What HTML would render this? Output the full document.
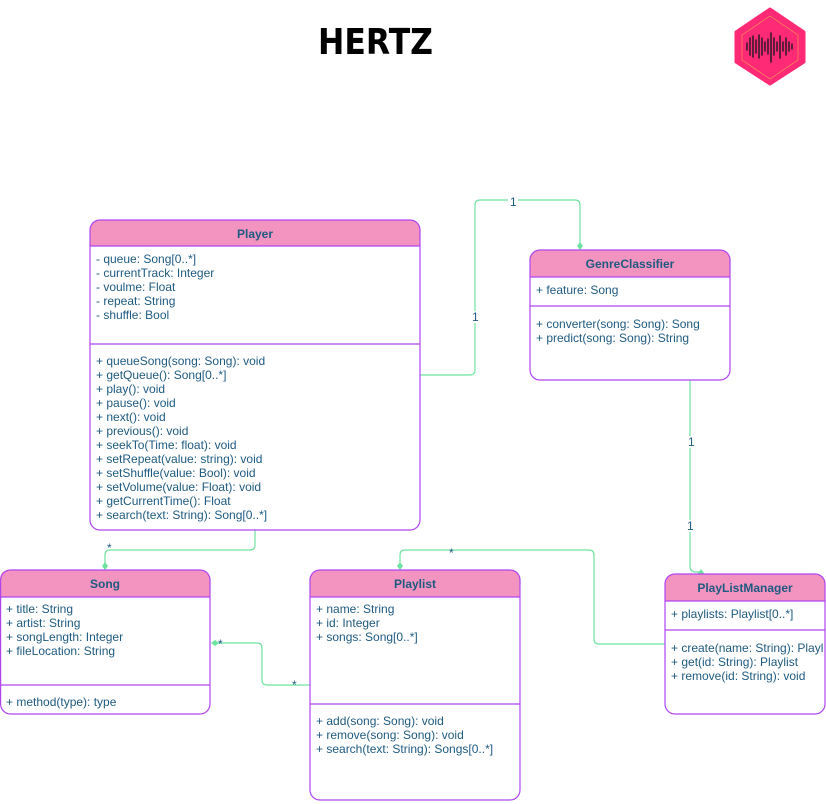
<!DOCTYPE html>
<html><head><meta charset="utf-8"><style>
html,body{margin:0;padding:0;background:#fff;width:826px;height:804px;overflow:hidden}
svg text{font-family:"Liberation Sans",Arial,sans-serif;font-size:12px;fill:#1e5a80}
svg .h{font-weight:bold;text-anchor:middle}
</style></head><body>
<svg width="826" height="804" viewBox="0 0 826 804" xmlns="http://www.w3.org/2000/svg">
<rect width="826" height="804" fill="#fff"/>
<text x="318" y="54" textLength="115" lengthAdjust="spacingAndGlyphs" style="font-family:'DejaVu Sans',sans-serif;font-weight:bold;font-size:36px;fill:#000">HERTZ</text>
<!-- logo -->
<polygon points="770,9 804,32 804,62 770,84 736,62 736,32" fill="#ff2a75" stroke="#ff2a75" stroke-width="3" stroke-linejoin="round"/>
<polygon points="770,16 798,35 798,60 770,79 742,60 742,35" fill="none" stroke="#f5a050" stroke-width="0.6"/>
<g stroke="#3a1a2a" stroke-width="1.6" stroke-linecap="round">
<line x1="747" y1="43" x2="747" y2="50"/><line x1="750" y1="38" x2="750" y2="55"/><line x1="753" y1="36" x2="753" y2="57"/><line x1="756" y1="40" x2="756" y2="53"/><line x1="759" y1="35" x2="759" y2="58"/><line x1="762" y1="38" x2="762" y2="55"/><line x1="765" y1="42" x2="765" y2="51"/><line x1="768" y1="39" x2="768" y2="54"/><line x1="771" y1="33" x2="771" y2="62"/><line x1="774" y1="38" x2="774" y2="55"/><line x1="777" y1="42" x2="777" y2="51"/><line x1="780" y1="36" x2="780" y2="58"/><line x1="783" y1="42" x2="783" y2="51"/><line x1="786" y1="38" x2="786" y2="55"/><line x1="789" y1="42" x2="789" y2="51"/><line x1="792" y1="44" x2="792" y2="49"/>
</g>
<!-- connectors -->
<g fill="none" stroke="#6ee39f" stroke-width="1.2">
<path d="M420,375 H470 Q475,375 475,370 V205 Q475,200 480,200 H575 Q580,200 580,205 V244"/>
<path d="M690,380 V566 Q690,572 696,572 H701"/>
<path d="M255,530 V545 Q255,550 250,550 H110 Q105,550 105,555 V564"/>
<path d="M665,644 H599 Q594,644 594,639 V555 Q594,550 589,550 H405 Q400,550 400,555 V564"/>
<path d="M310,685 H267 Q262,685 262,680 V648 Q262,643 257,643 H216"/>
</g>
<g fill="#6ee39f">
<polygon points="580,242 583,246 580,250 577,246"/>
<polygon points="701,569 704,573 701,577 698,573"/>
<polygon points="105,562 108,566 105,570 102,566"/>
<polygon points="400,562 403,566 400,570 397,566"/>
<polygon points="211,643 215,640 219,643 215,646"/>
</g>
<g>
<rect x="508" y="195" width="10" height="12" fill="#fff"/><text x="510" y="206">1</text>
<rect x="470" y="311" width="10" height="12" fill="#fff"/><text x="472" y="321">1</text>
<rect x="686" y="436" width="10" height="12" fill="#fff"/><text x="688" y="446">1</text>
<rect x="685" y="520" width="10" height="12" fill="#fff"/><text x="687" y="530">1</text>
<text x="107" y="552">*</text><text x="449" y="557">*</text><text x="218" y="648">*</text><text x="292" y="689">*</text>
</g>
<!-- Player -->
<g>
<path d="M90,530 V230 Q90,220 100,220 H410 Q420,220 420,230 V246 H90" fill="#f394c0"/>
<rect x="90" y="220" width="330" height="310" rx="10" fill="none" stroke="#b045f0" stroke-width="1.2"/>
<line x1="90" y1="246" x2="420" y2="246" stroke="#b045f0" stroke-width="1.2"/>
<line x1="90" y1="344" x2="420" y2="344" stroke="#b045f0" stroke-width="1.2"/>
<text class="h" x="255" y="238">Player</text>
<text x="96" y="263">- queue: Song[0..*]</text>
<text x="96" y="277">- currentTrack: Integer</text>
<text x="96" y="291">- voulme: Float</text>
<text x="96" y="305">- repeat: String</text>
<text x="96" y="319">- shuffle: Bool</text>
<text x="96" y="365">+ queueSong(song: Song): void</text>
<text x="96" y="379">+ getQueue(): Song[0..*]</text>
<text x="96" y="393">+ play(): void</text>
<text x="96" y="407">+ pause(): void</text>
<text x="96" y="421">+ next(): void</text>
<text x="96" y="435">+ previous(): void</text>
<text x="96" y="449">+ seekTo(Time: float): void</text>
<text x="96" y="463">+ setRepeat(value: string): void</text>
<text x="96" y="477">+ setShuffle(value: Bool): void</text>
<text x="96" y="491">+ setVolume(value: Float): void</text>
<text x="96" y="505">+ getCurrentTime(): Float</text>
<text x="96" y="519">+ search(text: String): Song[0..*]</text>
</g>
<!-- GenreClassifier -->
<g>
<path d="M530,277 V260 Q530,250 540,250 H720 Q730,250 730,260 V277 Z" fill="#f394c0"/>
<rect x="530" y="250" width="200" height="130" rx="10" fill="none" stroke="#b045f0" stroke-width="1.2"/>
<line x1="530" y1="277" x2="730" y2="277" stroke="#b045f0" stroke-width="1.2"/>
<line x1="530" y1="306" x2="730" y2="306" stroke="#b045f0" stroke-width="1.2"/>
<text class="h" x="630" y="268">GenreClassifier</text>
<text x="536" y="294">+ feature: Song</text>
<text x="536" y="328">+ converter(song: Song): Song</text>
<text x="536" y="342">+ predict(song: Song): String</text>
</g>
<!-- Song -->
<g>
<path d="M0,597 V580 Q0,570 10,570 H200 Q210,570 210,580 V597 Z" fill="#f394c0"/>
<rect x="0.6" y="570" width="209.4" height="144" rx="10" fill="none" stroke="#b045f0" stroke-width="1.2"/>
<line x1="0" y1="597" x2="210" y2="597" stroke="#b045f0" stroke-width="1.2"/>
<line x1="0" y1="685" x2="210" y2="685" stroke="#b045f0" stroke-width="1.2"/>
<text class="h" x="105" y="588">Song</text>
<text x="6" y="613">+ title: String</text>
<text x="6" y="627">+ artist: String</text>
<text x="6" y="641">+ songLength: Integer</text>
<text x="6" y="655">+ fileLocation: String</text>
<text x="6" y="706">+ method(type): type</text>
</g>
<!-- Playlist -->
<g>
<path d="M310,597 V580 Q310,570 320,570 H510 Q520,570 520,580 V597 Z" fill="#f394c0"/>
<rect x="310" y="570" width="210" height="230" rx="10" fill="none" stroke="#b045f0" stroke-width="1.2"/>
<line x1="310" y1="597" x2="520" y2="597" stroke="#b045f0" stroke-width="1.2"/>
<line x1="310" y1="704" x2="520" y2="704" stroke="#b045f0" stroke-width="1.2"/>
<text class="h" x="415" y="588">Playlist</text>
<text x="316" y="613">+ name: String</text>
<text x="316" y="627">+ id: Integer</text>
<text x="316" y="641">+ songs: Song[0..*]</text>
<text x="316" y="725">+ add(song: Song): void</text>
<text x="316" y="739">+ remove(song: Song): void</text>
<text x="316" y="753">+ search(text: String): Songs[0..*]</text>
</g>
<!-- PlayListManager -->
<g>
<path d="M665,601 V584 Q665,574 675,574 H815 Q825,574 825,584 V601 Z" fill="#f394c0"/>
<rect x="665" y="574" width="160" height="140" rx="10" fill="none" stroke="#b045f0" stroke-width="1.2"/>
<line x1="665" y1="601" x2="825" y2="601" stroke="#b045f0" stroke-width="1.2"/>
<line x1="665" y1="630" x2="825" y2="630" stroke="#b045f0" stroke-width="1.2"/>
<text class="h" x="745" y="592">PlayListManager</text>
<text x="671" y="618">+ playlists: Playlist[0..*]</text>
<svg x="665" y="630" width="159" height="80"><text x="6" y="22">+ create(name: String): Playlist</text></svg>
<text x="671" y="666">+ get(id: String): Playlist</text>
<text x="671" y="680">+ remove(id: String): void</text>
</g>
</svg>
</body></html>
